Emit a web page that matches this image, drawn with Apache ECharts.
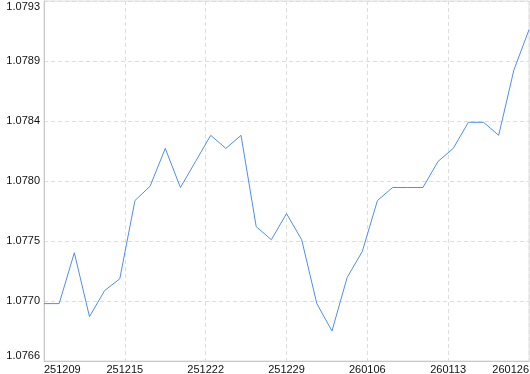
<!DOCTYPE html>
<html>
<head>
<meta charset="utf-8">
<script src="https://cdn.jsdelivr.net/npm/echarts@6/dist/echarts.min.js"></script>
<style>html,body{margin:0;padding:0;background:#fff}#c{width:530px;height:374px}</style>
</head>
<body>
<div id="c"></div>
<script>
var xTickLabels = ["251209", "251215", "251222", "251229", "260106", "260113", "260126"];
var values = [1.07702, 1.07702, 1.07741, 1.07692, 1.07712, 1.07721, 1.07781, 1.07792,
  1.07821, 1.07791, 1.07811, 1.07831, 1.07821, 1.07831, 1.07761, 1.07751,
  1.07771, 1.07751, 1.07702, 1.07681, 1.07722, 1.07742, 1.07781, 1.07791,
  1.07791, 1.07791, 1.07811, 1.07821, 1.07841, 1.07841, 1.07831, 1.07881, 1.07912];
var yMin = 1.07658, yMax = 1.07934, yStep = 0.00046;

// x position unit: 32 steps between points, 6 equal label divisions -> use 3 units per point
var unit = 3;
var xMax = (values.length - 1) * unit;   // 96
var xStep = xMax / (xTickLabels.length - 1); // 16
var data = values.map(function (v, i) { return [i * unit, v]; });

var chart = echarts.init(document.getElementById('c'), null, {renderer: 'canvas'});
var font = 'Liberation Sans';
chart.setOption({
  animation: false,
  grid: {left: 44, right: 1, top: 1, bottom: 13, show: true, borderColor: '#dcdcdc', borderWidth: 1,
    containLabel: false, outerBoundsMode: 'none'},
  xAxis: {
    type: 'value', min: 0, max: xMax, interval: xStep,
    axisLine: {show: true, lineStyle: {color: '#c8c8c8'}},
    axisTick: {show: false},
    splitLine: {show: true, lineStyle: {color: '#dddddd', type: [4, 3]}},
    axisLabel: {
      color: '#111', fontFamily: font, fontSize: 11, margin: 3,
      alignMinLabel: 'left', alignMaxLabel: 'right',
      formatter: function (v) { return xTickLabels[Math.round(v / xStep)] || ''; }
    }
  },
  yAxis: {
    type: 'value', min: yMin, max: yMax, interval: yStep,
    axisLine: {show: true, lineStyle: {color: '#c8c8c8'}},
    axisTick: {show: false},
    splitLine: {show: true, lineStyle: {color: '#dddddd', type: [4, 3]}},
    axisLabel: {
      color: '#111', fontFamily: font, fontSize: 11, margin: 4,
      verticalAlignMinLabel: 'bottom', verticalAlignMaxLabel: 'top',
      formatter: function (v) { return v.toFixed(4); }
    }
  },
  series: [{
    type: 'line', data: data, showSymbol: false, symbol: 'none',
    lineStyle: {color: '#4f8fe6', width: 1},
    clip: false
  }]
});
</script>
</body>
</html>
